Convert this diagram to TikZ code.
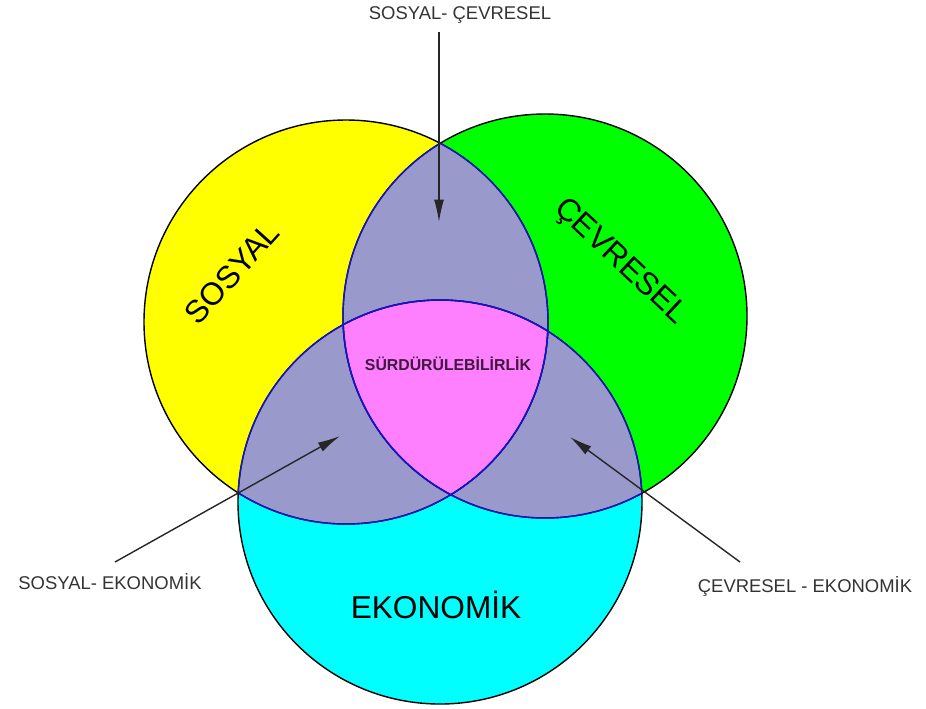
\documentclass[tikz,border=0pt]{standalone}
\usepackage{fontspec}
\setmainfont{Liberation Sans}
\usetikzlibrary{arrows.meta}
\definecolor{sari}{RGB}{255,255,0}
\definecolor{yesil}{RGB}{0,255,0}
\definecolor{turkuaz}{RGB}{0,255,255}
\definecolor{lila}{RGB}{153,153,204}
\definecolor{pembe}{RGB}{255,128,255}
\definecolor{morkoyu}{RGB}{64,24,64}
\definecolor{kenar}{RGB}{20,20,200}
\def\yaricap{202}
\begin{document}
\begin{tikzpicture}[x=0.02cm, y=-0.02cm,
       halka/.style={draw=black, line width=0.8pt},
       icarc/.style={draw=kenar, line width=0.8pt},
       buyuk/.style={font=\fontsize{18}{20}\selectfont, text=black},
       etiket/.style={font=\fontsize{10.5}{12}\selectfont, text=black!80},
       ok/.style={draw=black!85, line width=0.8pt, -{Latex[length=4.5mm,width=2mm]}}]
\useasboundingbox (0,0) rectangle (926,708);
\coordinate (sosyal) at (346,322);
\coordinate (cevresel) at (545,316);
\coordinate (ekonomik) at (440,502);

\fill[sari] (sosyal) circle (\yaricap);
\fill[yesil] (cevresel) circle (\yaricap);
\fill[turkuaz] (ekonomik) circle (\yaricap);
\begin{scope}
    \clip (sosyal) circle (\yaricap);
    \fill[lila] (cevresel) circle (\yaricap);
    \fill[lila] (ekonomik) circle (\yaricap);
\end{scope}
\begin{scope}
    \clip (cevresel) circle (\yaricap);
    \fill[lila] (ekonomik) circle (\yaricap);
\end{scope}
\begin{scope}
    \clip (sosyal) circle (\yaricap);
    \clip (cevresel) circle (\yaricap);
    \fill[pembe] (ekonomik) circle (\yaricap);
\end{scope}

\foreach \c in {sosyal, cevresel, ekonomik}
    \draw[halka] (\c) circle (\yaricap);
\begin{scope}
    \clip (sosyal) circle (\yaricap);
    \draw[icarc] (cevresel) circle (\yaricap);
    \draw[icarc] (ekonomik) circle (\yaricap);
\end{scope}
\begin{scope}
    \clip (cevresel) circle (\yaricap);
    \draw[icarc] (sosyal) circle (\yaricap);
    \draw[icarc] (ekonomik) circle (\yaricap);
\end{scope}
\begin{scope}
    \clip (ekonomik) circle (\yaricap);
    \draw[icarc] (sosyal) circle (\yaricap);
    \draw[icarc] (cevresel) circle (\yaricap);
\end{scope}

\node[buyuk, rotate=48] (sosyalyazi) at (232,273) {SOSYAL};
\node[buyuk, rotate=-43] (cevreselyazi) at (620,262) {ÇEVRESEL};
\node[buyuk] (ekonomikyazi) at (436,605) {EKONOMİK};
\node[font=\bfseries\fontsize{9}{10}\selectfont, text=morkoyu] (surdur) at (448,364) {SÜRDÜRÜLEBİLİRLİK};

\node[etiket] (sc) at (460,15) {SOSYAL- ÇEVRESEL};
\node[etiket] (se) at (110,582) {SOSYAL- EKONOMİK};
\node[etiket] (ce) at (805,586) {ÇEVRESEL - EKONOMİK};

\coordinate (scuc) at (439,32);
\coordinate (scok) at (439,222);
\coordinate (seuc) at (115,562);
\coordinate (seok) at (340,436);
\coordinate (ceuc) at (740,562);
\coordinate (ceok) at (570,437);
\draw[ok] (scuc) -- (scok);
\draw[ok] (seuc) -- (seok);
\draw[ok] (ceuc) -- (ceok);
\end{tikzpicture}
\end{document}
